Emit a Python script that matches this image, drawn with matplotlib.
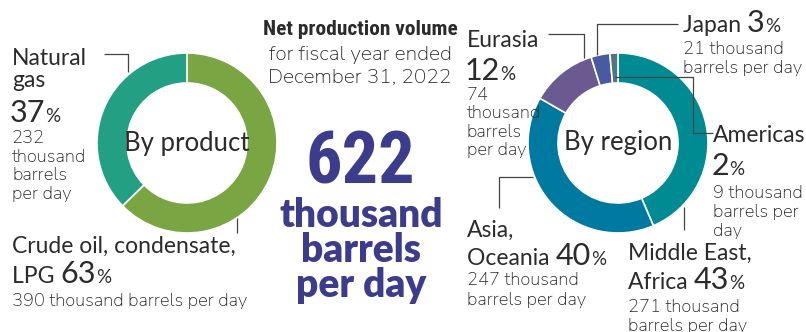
import matplotlib
matplotlib.use("Agg")
from matplotlib import pyplot as plt

# 제품별 생산량 (천 배럴/일)
product_names = ['Crude oil, condensate, LPG', 'Natural gas']
product_values = [390, 232]
product_pct = [63, 37]
product_colors = ['#79a542', '#23a083']

# 지역별 생산량 (천 배럴/일)
region_names = ['Middle East, Africa', 'Asia, Oceania', 'Eurasia', 'Japan', 'Americas']
region_values = [271, 247, 74, 21, 9]
region_pct = [43, 40, 12, 3, 2]
region_colors = ['#008b93', '#0079a0', '#6a5a90', '#4a5aa0', '#4f767a']

total = 622

W, H = 806, 332
TXT = '#2b2b2b'
NAVY = '#3c3c8c'
COND = ['Roboto Condensed', 'DejaVu Sans']
LATO = ['Lato', 'DejaVu Sans']

plt.rcParams['font.family'] = ['Nunito Sans', 'DejaVu Sans']

fig = plt.figure(figsize=(W / 100, H / 100), dpi=100)
ax = fig.add_axes([0, 0, 1, 1])


def donut(values, colors, cx, cy):
    ax.pie(values, colors=colors, startangle=90, counterclock=False,
           center=(cx, H - cy), radius=90,
           wedgeprops=dict(width=30, edgecolor='white', linewidth=1.2))


donut(product_values, product_colors, 187, 143)
donut(region_values, region_colors, 618, 143)

ax.set_xlim(0, W)
ax.set_ylim(0, H)
ax.set_aspect('equal')
ax.axis('off')

renderer = fig.canvas.get_renderer()


def runs(x, y, parts):
    # 한 줄에 크기가 다른 글자를 이어서 배치
    for s, size in parts:
        t = ax.text(x, H - y, s, fontsize=size, family=LATO, color=TXT,
                    ha='left', va='baseline')
        x += t.get_window_extent(renderer).width


def lines(x, y, rows, step, size=13.2):
    for i, s in enumerate(rows):
        ax.text(x, H - (y + i * step), s, fontsize=size,
                color=TXT, ha='left', va='baseline')


def leader(xs, ys):
    ax.plot(xs, [H - v for v in ys], color='#444444', lw=0.9, solid_capstyle='butt')


NAME = 16.5
BIG = 22
PCT = 13.5

# 제품별 라벨
runs(12, 65, [('Natural', NAME)])
runs(12, 87, [('gas', NAME)])
runs(10, 122, [(f'{product_pct[1]}', BIG), ('%', PCT)])
lines(12, 143, [f'{product_values[1]}', 'thousand', 'barrels', 'per day'], 18.5)
leader([104, 128, 128], [54, 54, 72])

runs(12, 253, [('Crude oil, condensate,', NAME)])
runs(12, 283, [('LPG ', NAME), (f'{product_pct[0]}', BIG), ('%', PCT)])
lines(12, 306, [f'{product_values[0]} thousand barrels per day'], 18.5)
leader([237, 237], [218, 233])

ax.text(187, H - 151, 'By product', fontsize=18.5, family=LATO, color=TXT,
        ha='center', va='baseline')

# 가운데 합계
ax.text(360, H - 35, 'Net production volume', fontsize=15.4, fontweight='bold',
        family=COND, color=TXT, ha='center', va='baseline')
ax.text(360, H - 60, 'for fiscal year ended', fontsize=15,
        color=TXT, ha='center', va='baseline')
ax.text(360, H - 82, 'December 31, 2022', fontsize=15,
        color=TXT, ha='center', va='baseline')
ax.text(360, H - 183, f'{total}', fontsize=52, fontweight='black', family=COND,
        color=NAVY, ha='center', va='baseline')
for i, s in enumerate(['thousand', 'barrels', 'per day']):
    ax.text(361, H - (227 + i * 35), s, fontsize=28, fontweight='heavy', family=LATO,
            color=NAVY, ha='center', va='baseline')

# 지역별 라벨
runs(467, 47, [('Eurasia', NAME)])
runs(465, 80, [(f'{region_pct[2]}', BIG), ('%', PCT)])
lines(467, 100, [f'{region_values[2]}', 'thousand', 'barrels', 'per day'], 18.5)
leader([548, 584, 584], [34, 34, 58])

runs(683, 32, [('Japan ', NAME), (f'{region_pct[3]}', BIG), ('%', PCT)])
lines(683, 54, [f'{region_values[3]} thousand', 'barrels per day'], 19)
leader([678, 597, 597], [24, 24, 55])

runs(713, 142, [('Americas', NAME)])
runs(712, 175, [(f'{region_pct[4]}', BIG), ('%', PCT)])
lines(713, 198, [f'{region_values[4]} thousand', 'barrels per', 'day'], 19)
leader([615, 693, 693, 713], [77, 77, 133, 133])

runs(628, 260, [('Middle East,', NAME)])
runs(628, 289, [('Africa ', NAME), (f'{region_pct[0]}', BIG), ('%', PCT)])
lines(628, 312, [f'{region_values[0]} thousand', 'barrels per day'], 19)
leader([684, 684], [207, 230])

runs(467, 237, [('Asia,', NAME)])
runs(467, 265, [('Oceania ', NAME), (f'{region_pct[1]}', BIG), ('%', PCT)])
lines(467, 285, [f'{region_values[1]} thousand', 'barrels per day'], 20)
leader([533, 499, 499], [177, 177, 208])

ax.text(618, H - 150, 'By region', fontsize=18.5, family=LATO, color=TXT,
        ha='center', va='baseline')

fig.savefig('out.png', dpi=100)
plt.close(fig)
